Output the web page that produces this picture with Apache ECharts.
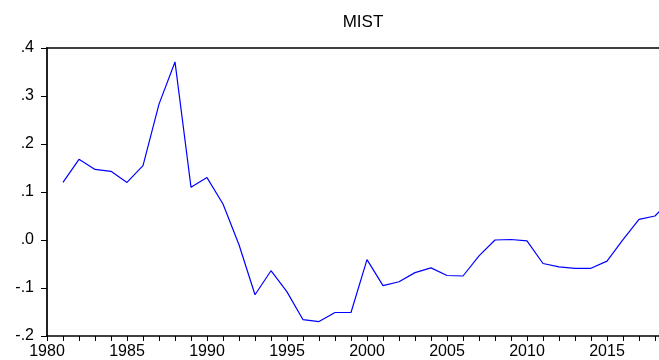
<!DOCTYPE html>
<html>
<head>
<meta charset="utf-8">
<script src="https://cdn.jsdelivr.net/npm/echarts@6/dist/echarts.min.js"></script>
<style>html,body{margin:0;padding:0;background:#fff;}#c{width:659px;height:360px;}</style>
</head>
<body>
<div id="c"></div>
<script>
var titleText = 'MIST';
var years = [1981,1982,1983,1984,1985,1986,1987,1988,1989,1990,1991,1992,1993,1994,1995,1996,1997,1998,1999,2000,2001,2002,2003,2004,2005,2006,2007,2008,2009,2010,2011,2012,2013,2014,2015,2016,2017,2018,2019];
var mist = [0.120,0.168,0.147,0.143,0.120,0.155,0.283,0.371,0.110,0.130,0.075,-0.010,-0.114,-0.064,-0.108,-0.166,-0.170,-0.151,-0.151,-0.041,-0.095,-0.087,-0.068,-0.058,-0.074,-0.075,-0.033,0.000,0.001,-0.002,-0.049,-0.056,-0.059,-0.059,-0.044,0.001,0.043,0.050,0.085];
var xMin = 1980, xMax = 2018.25;
var yMin = -0.2, yMax = 0.4;

var chart = echarts.init(document.getElementById('c'), null, {renderer: 'canvas'});
var fontFam = '"Liberation Sans", Arial, sans-serif';
function fmtY(v) {
  if (Math.abs(v) < 1e-9) return '.0';
  var s = v.toFixed(1);
  return s.replace('0.', '.');
}
chart.setOption({
  animation: false,
  backgroundColor: '#fff',
  title: {
    text: titleText, left: 358, top: 9, textAlign: 'center',
    textStyle: {fontFamily: fontFam, fontSize: 17, fontWeight: 'normal', color: '#000'}
  },
  grid: {left: 47, right: 0, top: 48, bottom: 22, containLabel: false},
  xAxis: [{
    type: 'value', min: xMin, max: xMax, interval: 1,
    splitLine: {show: false},
    axisLine: {show: true, onZero: false, lineStyle: {color: '#000', width: 1.5}},
    axisTick: {show: true, inside: false, length: 5, lineStyle: {color: '#000'}},
    axisLabel: {
      margin: 8, color: '#000', fontFamily: fontFam, fontSize: 16,
      showMaxLabel: false,
      formatter: function (v) { return (Math.abs(v % 5) < 1e-9) ? String(v) : ''; }
    }
  }, {
    type: 'value', position: 'top', min: xMin, max: xMax,
    splitLine: {show: false},
    axisLine: {show: true, onZero: false, lineStyle: {color: '#000', width: 1.5}},
    axisTick: {show: false}, axisLabel: {show: false}
  }],
  yAxis: {
    type: 'value', min: yMin, max: yMax, interval: 0.1,
    splitLine: {show: false},
    axisLine: {show: true, onZero: false, lineStyle: {color: '#222', width: 2}},
    axisTick: {show: true, inside: false, length: 6, lineStyle: {color: '#000'}},
    axisLabel: {margin: 13, color: '#000', fontFamily: fontFam, fontSize: 16, formatter: fmtY}
  },
  series: [{
    type: 'line',
    data: years.map(function (y, i) { return [y, mist[i]]; }),
    showSymbol: false, symbol: 'none', clip: true,
    lineStyle: {color: '#0000ff', width: 1.2}
  }]
});
</script>
</body>
</html>
